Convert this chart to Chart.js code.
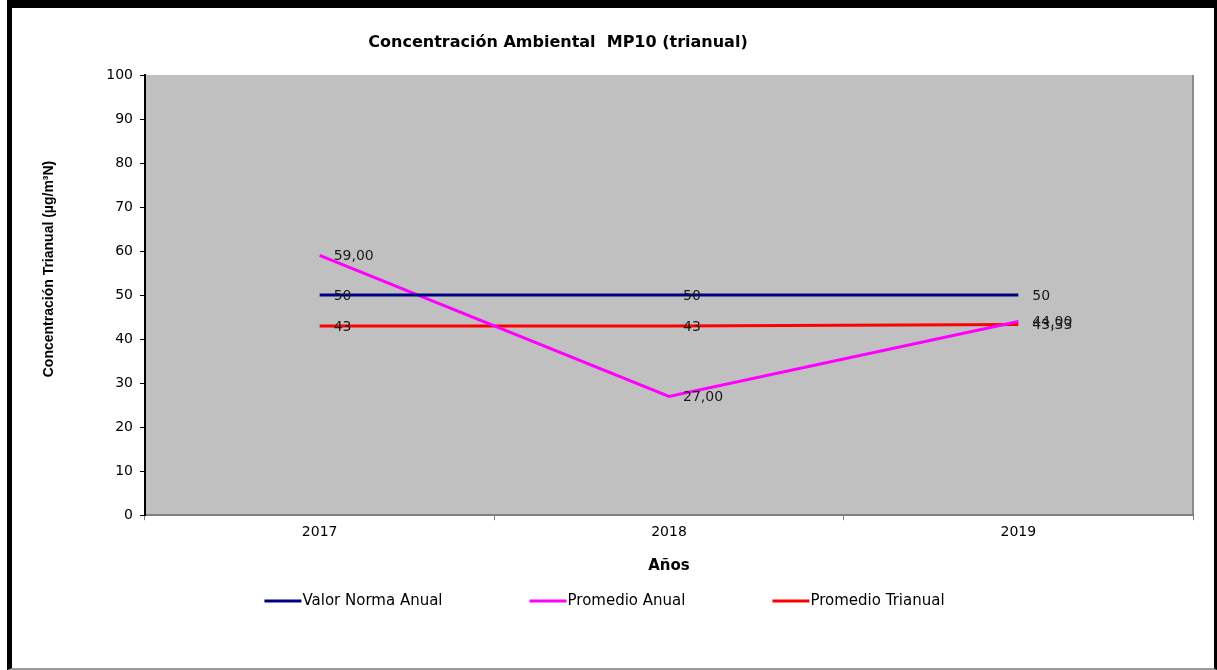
<!DOCTYPE html>
<html>
<head>
<meta charset="utf-8">
<script src="https://cdn.jsdelivr.net/npm/chart.js@4"></script>
<style>
    body { margin: 0; background: #fff; }
    #wrap { position: relative; width: 1217px; height: 670px; }
    #frame {
        position: absolute; left: 7px; top: 0; width: 1202px; height: 660px;
        border-left: 5px solid #000; border-top: 8px solid #000;
        border-right: 3px solid #000; border-bottom: 2px solid #999;
        pointer-events: none;
    }
</style>
</head>
<body>
<div id="wrap">
    <canvas id="chart" width="1217" height="670"></canvas>
    <div id="frame"></div>
</div>
<script>
const years = ["2017", "2018", "2019"];
const valorNorma = [50, 50, 50];
const promedioAnual = [59, 27, 44];
const promedioTrianual = [43, 43, 43.33];
const yTicks = [0, 100, 10]; // min, max, step

const FONT = "'DejaVu Sans', sans-serif";
const FONT_NARROW = "'Liberation Sans', Arial, sans-serif";

function general(v) {
    return String(Math.round(v * 100) / 100).replace(".", ",");
}
function fixed2(v) {
    return v.toFixed(2).replace(".", ",");
}

// gray plot background
const plotBg = {
    id: "plotBg",
    beforeDraw(chart) {
        const { ctx, chartArea: a } = chart;
        ctx.save();
        ctx.fillStyle = "#c0c0c0";
        ctx.fillRect(a.left, a.top, a.right - a.left, a.bottom - a.top);
        ctx.strokeStyle = "#8c8c8c";
        ctx.lineWidth = 2;
        ctx.beginPath();
        ctx.moveTo(a.right, a.top);
        ctx.lineTo(a.right, a.bottom);
        ctx.stroke();
        ctx.restore();
    },
};

// value labels next to each point
const pointLabels = {
    id: "pointLabels",
    afterDatasetsDraw(chart) {
        const ctx = chart.ctx;
        ctx.save();
        ctx.font = "14px " + FONT;
        ctx.fillStyle = "#1a1a1a";
        ctx.textBaseline = "middle";
        ctx.textAlign = "left";
        chart.data.datasets.forEach((ds, i) => {
            chart.getDatasetMeta(i).data.forEach((pt, j) => {
                ctx.fillText(ds.fmt(ds.data[j]), pt.x + 14, pt.y + 1);
            });
        });
        ctx.restore();
    },
};

// chart title, y axis title and legend row
const textBits = {
    id: "textBits",
    afterDraw(chart) {
        const ctx = chart.ctx;
        ctx.save();
        ctx.fillStyle = "#000";
        ctx.textBaseline = "middle";
        ctx.textAlign = "center";
        ctx.font = "bold 16px " + FONT;
        ctx.fillText("Concentración Ambiental  MP10 (trianual)", 558, 43);

        // y axis title sits a bit above the plot centre in the original
        ctx.save();
        ctx.translate(49, 269);
        ctx.rotate(-Math.PI / 2);
        ctx.font = "bold 14px " + FONT_NARROW;
        ctx.fillText("Concentración Trianual (µg/m³N)", 0, 0);
        ctx.restore();

        ctx.font = "15px " + FONT;
        ctx.textAlign = "left";
        const lineLen = 37, gap = 87, y = 601;
        const items = chart.data.datasets.map((ds) => ({
            text: ds.label,
            color: ds.borderColor,
            w: lineLen + 1 + ctx.measureText(ds.label).width,
        }));
        const total = items.reduce((s, it) => s + it.w, 0) + gap * (items.length - 1);
        let x = chart.width / 2 - 4 - total / 2;
        items.forEach((it) => {
            ctx.strokeStyle = it.color;
            ctx.lineWidth = 3;
            ctx.beginPath();
            ctx.moveTo(x, y);
            ctx.lineTo(x + lineLen, y);
            ctx.stroke();
            ctx.fillStyle = "#000";
            ctx.fillText(it.text, x + lineLen + 1, y);
            x += it.w + gap;
        });
        ctx.restore();
    },
};

new Chart(document.getElementById("chart"), {
    type: "line",
    data: {
        labels: years,
        datasets: [
            {
                label: "Valor Norma Anual",
                data: valorNorma,
                borderColor: "#000080",
                backgroundColor: "#000080",
                fmt: general,
            },
            {
                label: "Promedio Anual",
                data: promedioAnual,
                borderColor: "#ff00ff",
                backgroundColor: "#ff00ff",
                fmt: fixed2,
            },
            {
                label: "Promedio Trianual",
                data: promedioTrianual,
                borderColor: "#ff0000",
                backgroundColor: "#ff0000",
                fmt: general,
            },
        ],
    },
    options: {
        responsive: false,
        animation: false,
        devicePixelRatio: 1,
        elements: {
            line: { borderWidth: 3, tension: 0 },
            point: { radius: 0, hoverRadius: 0 },
        },
        layout: {
            padding: { left: 20, top: 75, right: 24, bottom: 91 },
        },
        plugins: {
            legend: { display: false },
            title: { display: false },
            tooltip: { enabled: false },
        },
        scales: {
            x: {
                offset: true,
                grid: {
                    offset: true,
                    drawOnChartArea: false,
                    tickLength: 5,
                    color: "#808080",
                },
                border: { color: "#808080", width: 2 },
                ticks: {
                    color: "#000",
                    padding: 4,
                    font: { family: FONT, size: 14 },
                },
                title: {
                    display: true,
                    text: "Años",
                    color: "#000",
                    font: { family: FONT, size: 15, weight: "bold" },
                    padding: { top: 12, bottom: 4 },
                },
            },
            y: {
                min: yTicks[0],
                max: yTicks[1],
                afterFit(scale) {
                    scale.width = 125;
                },
                grid: {
                    drawOnChartArea: false,
                    tickLength: 5,
                    color: "#000",
                },
                border: { color: "#000", width: 2 },
                ticks: {
                    stepSize: yTicks[2],
                    color: "#000",
                    padding: 7,
                    font: { family: FONT, size: 14 },
                },
            },
        },
    },
    plugins: [plotBg, pointLabels, textBits],
});
</script>
</body>
</html>
